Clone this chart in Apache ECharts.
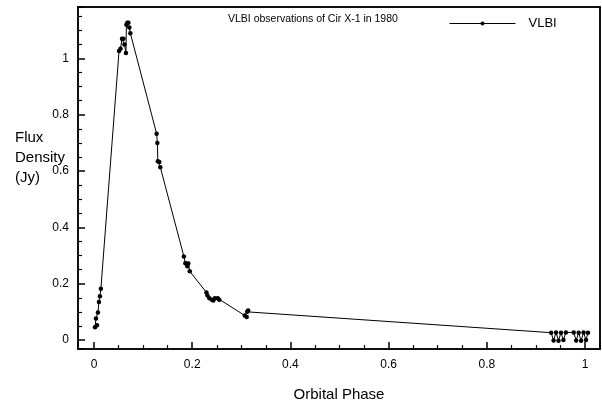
<!DOCTYPE html>
<html>
<head>
<meta charset="utf-8">
<script src="https://cdn.jsdelivr.net/npm/echarts@6/dist/echarts.min.js"></script>
<style>
  html, body { margin: 0; padding: 0; background: #fff; }
  #chart { width: 602px; height: 407px; }
</style>
</head>
<body>
<div id="chart"></div>
<script>
// VLBI observations of Cir X-1 (phase, flux in Jy), in observation order
const seriesName = 'VLBI'
const phase = [
  0.002, 0.006, 0.004, 0.008, 0.010, 0.012, 0.014,
  0.051, 0.054, 0.057, 0.060, 0.062, 0.065, 0.066, 0.068, 0.070, 0.072, 0.074,
  0.1275, 0.129, 0.130, 0.133, 0.135,
  0.183, 0.186, 0.188, 0.190, 0.192, 0.195,
  0.229, 0.231, 0.235, 0.240, 0.243, 0.246, 0.252, 0.255,
  0.307, 0.311, 0.312, 0.314,
  0.931, 0.936, 0.941, 0.946, 0.951, 0.956, 0.961,
  0.977, 0.982, 0.987, 0.992, 0.997, 1.002, 1.006
]
const flux = [
  0.045, 0.052, 0.076, 0.098, 0.135, 0.155, 0.182,
  1.027, 1.035, 1.070, 1.070, 1.050, 1.020, 1.120, 1.127, 1.127, 1.110, 1.090,
  0.733, 0.700, 0.635, 0.632, 0.614,
  0.297, 0.273, 0.272, 0.262, 0.272, 0.244,
  0.169, 0.158, 0.148, 0.143, 0.140, 0.148, 0.148, 0.143,
  0.087, 0.082, 0.100, 0.105,
  0.026, -0.002, 0.027, -0.003, 0.026, 0.000, 0.027,
  0.027, -0.002, 0.026, -0.003, 0.027, 0.000, 0.026
]
const xTickLabels = [0, 0.2, 0.4, 0.6, 0.8, 1]
const yTickLabels = [0, 0.2, 0.4, 0.6, 0.8, 1]

const xMin = -0.0326, xMax = 1.0305
const yMin = -0.032, yMax = 1.183

const chart = echarts.init(document.getElementById('chart'))
const font = 'Liberation Sans, Arial, Helvetica, sans-serif'

// plain line used for the top and right edges of the box
const frameAxis = (min, max, position) => ({
  type: 'value',
  min: min,
  max: max,
  position: position,
  splitLine: { show: false },
  axisLine: { show: true, onZero: false, lineStyle: { color: '#000', width: 1.5 } },
  axisTick: { show: false },
  axisLabel: { show: false }
})

const option = {
  animation: false,
  textStyle: { fontFamily: font, color: '#000' },
  title: {
    text: 'VLBI observations of Cir X-1 in 1980',
    left: 223,
    top: 9,
    textStyle: { fontSize: 10.5, fontWeight: 'normal', color: '#000', fontFamily: font }
  },
  legend: {
    data: [seriesName],
    left: 444,
    top: 12,
    itemWidth: 66,
    itemHeight: 5,
    lineStyle: { width: 1 },
    textStyle: { fontSize: 13, color: '#000', fontFamily: font, padding: [0, 0, 0, 8] }
  },
  grid: {
    left: 78,
    right: 2,
    top: 7,
    bottom: 54,
    show: true,
    borderColor: '#000',
    borderWidth: 1.5
  },
  xAxis: [{
    type: 'value',
    min: xMin,
    max: xMax,
    position: 'bottom',
    splitLine: { show: false },
    axisLine: { show: true, onZero: false, lineStyle: { color: '#000', width: 1.5 } },
    axisTick: { show: true, inside: true, length: 7, lineStyle: { color: '#000', width: 1.5 } },
    minorTick: { show: true, splitNumber: 4, length: 4, lineStyle: { color: '#000', width: 1.2 } },
    axisLabel: { customValues: xTickLabels, fontSize: 12, color: '#000', margin: 10 },
    name: 'Orbital Phase',
    nameLocation: 'middle',
    nameGap: 38,
    nameTextStyle: { fontSize: 15, color: '#000', fontFamily: font }
  }, frameAxis(xMin, xMax, 'top')],
  yAxis: [{
    type: 'value',
    min: yMin,
    max: yMax,
    position: 'left',
    splitLine: { show: false },
    axisLine: { show: true, onZero: false, lineStyle: { color: '#000', width: 1.5 } },
    axisTick: { show: true, inside: true, length: 7, lineStyle: { color: '#000', width: 1.5 } },
    minorTick: { show: true, splitNumber: 4, length: 4, lineStyle: { color: '#000', width: 1.2 } },
    axisLabel: { customValues: yTickLabels, fontSize: 12, color: '#000', margin: 9 }
  }, frameAxis(yMin, yMax, 'right')],
  graphic: [{
    type: 'text',
    left: 15,
    top: 128,
    style: {
      text: 'Flux\nDensity\n(Jy)',
      font: '15px ' + font,
      fill: '#000',
      lineHeight: 20
    }
  }],
  series: [{
    name: seriesName,
    type: 'line',
    data: phase.map((p, i) => [p, flux[i]]),
    symbol: 'circle',
    symbolSize: 4.5,
    itemStyle: { color: '#000' },
    lineStyle: { color: '#000', width: 1 }
  }]
}

chart.setOption(option)
</script>
</body>
</html>
